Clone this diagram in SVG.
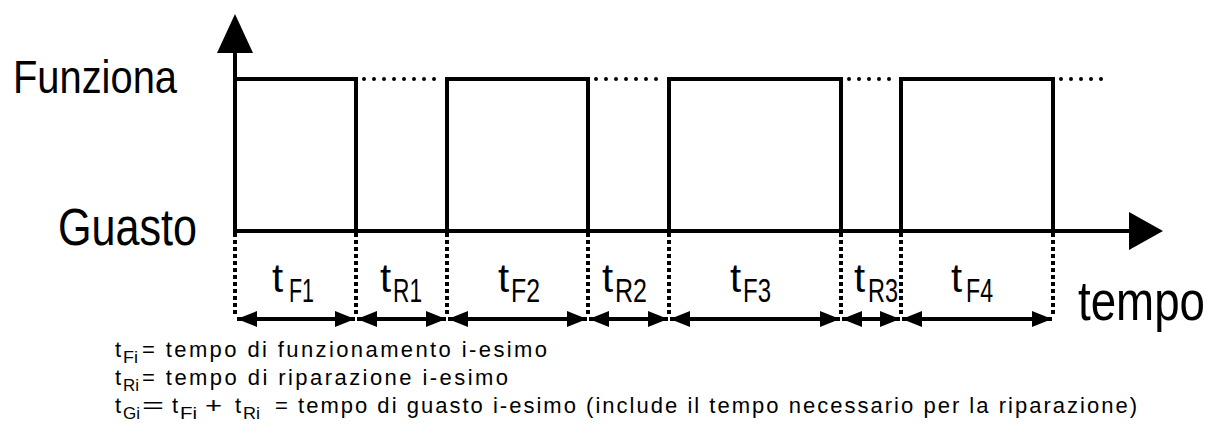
<svg xmlns="http://www.w3.org/2000/svg" width="1224" height="433" viewBox="0 0 1224 433">
  <style>
    text { font-family: "Liberation Sans", Arial, sans-serif; fill: #000; }
    .lvl { font-size: 47px; }
    .big { font-size: 40px; }
    .sub { font-size: 34px; }
    .leg { font-size: 22px; }
    .legsub { font-size: 16px; }
    .wave { fill: none; stroke: #000; stroke-width: 4; stroke-linejoin: miter; }
    .axis { stroke: #000; stroke-width: 4; fill: none; }
    .hold { stroke: #000; stroke-width: 4; stroke-dasharray: 0 10; stroke-linecap: round; fill: none; }
    .tick { stroke: #000; stroke-width: 4; stroke-dasharray: 4 3; fill: none; }
    .span { stroke: #000; stroke-width: 4; fill: none; marker-start: url(#head-l); marker-end: url(#head-r); }
  </style>
  <defs>
    <marker id="head-r" viewBox="0 0 20 16" refX="20" refY="8" markerWidth="20" markerHeight="16" markerUnits="userSpaceOnUse" orient="auto">
      <path d="M0,0 L20,8 L0,16 Z" fill="#000"/>
    </marker>
    <marker id="head-l" viewBox="0 0 20 16" refX="0" refY="8" markerWidth="20" markerHeight="16" markerUnits="userSpaceOnUse" orient="auto">
      <path d="M20,0 L0,8 L20,16 Z" fill="#000"/>
    </marker>
  </defs>

  <!-- axes -->
  <g id="axes">
    <line class="axis" x1="235" y1="233" x2="235" y2="50"/>
    <path d="M217,53 L235,14 L253,53 Z" fill="#000"/>
    <line class="axis" x1="233" y1="231" x2="1132" y2="231"/>
    <path d="M1129,212 L1163,231 L1129,250 Z" fill="#000"/>
  </g>

  <!-- state labels -->
  <g id="label-funziona"><text class="lvl" x="13" y="93" textLength="164" lengthAdjust="spacingAndGlyphs">Funziona</text></g>
  <g id="label-guasto"><text class="lvl" x="58" y="245" style="font-size:51px" textLength="139" lengthAdjust="spacingAndGlyphs">Guasto</text></g>
  <g id="label-tempo" transform="translate(1078,320) scale(1,1.1)"><text class="lvl" x="0" y="0" style="font-size:51px" textLength="127" lengthAdjust="spacingAndGlyphs">tempo</text></g>

  <!-- operating state waveform -->
  <g id="waveform">
    <path class="wave" d="M235,231 V79 H356 V231"/>
    <path class="wave" d="M447,231 V79 H588 V231"/>
    <path class="wave" d="M669,231 V79 H841 V231"/>
    <path class="wave" d="M901,231 V79 H1053 V231"/>
    <line class="hold" x1="364" y1="79" x2="442" y2="79"/>
    <line class="hold" x1="596" y1="79" x2="664" y2="79"/>
    <line class="hold" x1="849" y1="79" x2="896" y2="79"/>
    <line class="hold" x1="1061" y1="79" x2="1103" y2="79"/>
  </g>

  <!-- connectors: interval boundaries and spans -->
  <g id="connectors">
    <line class="tick" x1="235" y1="233" x2="235" y2="316"/>
    <line class="tick" x1="356" y1="233" x2="356" y2="316"/>
    <line class="tick" x1="447" y1="233" x2="447" y2="316"/>
    <line class="tick" x1="588" y1="233" x2="588" y2="316"/>
    <line class="tick" x1="669" y1="233" x2="669" y2="316"/>
    <line class="tick" x1="841" y1="233" x2="841" y2="316"/>
    <line class="tick" x1="901" y1="233" x2="901" y2="316"/>
    <line class="tick" x1="1053" y1="233" x2="1053" y2="316"/>
    <line class="span" x1="237" y1="319" x2="355" y2="319"/>
    <line class="span" x1="357" y1="319" x2="446" y2="319"/>
    <line class="span" x1="448" y1="319" x2="587" y2="319"/>
    <line class="span" x1="589" y1="319" x2="668" y2="319"/>
    <line class="span" x1="670" y1="319" x2="840" y2="319"/>
    <line class="span" x1="842" y1="319" x2="900" y2="319"/>
    <line class="span" x1="902" y1="319" x2="1052" y2="319"/>
  </g>

  <!-- interval labels -->
  <g id="label-tF1"><text class="big" x="272" y="292">t</text><text class="sub" x="289" y="302" textLength="25" lengthAdjust="spacingAndGlyphs">F1</text></g>
  <g id="label-tR1"><text class="big" x="380" y="292">t</text><text class="sub" x="393" y="302" textLength="29" lengthAdjust="spacingAndGlyphs">R1</text></g>
  <g id="label-tF2"><text class="big" x="498" y="292">t</text><text class="sub" x="511" y="302" textLength="29" lengthAdjust="spacingAndGlyphs">F2</text></g>
  <g id="label-tR2"><text class="big" x="602" y="292">t</text><text class="sub" x="615" y="302" textLength="32" lengthAdjust="spacingAndGlyphs">R2</text></g>
  <g id="label-tF3"><text class="big" x="730" y="292">t</text><text class="sub" x="743" y="302" textLength="28" lengthAdjust="spacingAndGlyphs">F3</text></g>
  <g id="label-tR3"><text class="big" x="854" y="292">t</text><text class="sub" x="868" y="302" textLength="30" lengthAdjust="spacingAndGlyphs">R3</text></g>
  <g id="label-tF4"><text class="big" x="951" y="292">t</text><text class="sub" x="966" y="302" textLength="27" lengthAdjust="spacingAndGlyphs">F4</text></g>

  <!-- legend -->
  <g id="legend">
    <text class="leg" x="115" y="357">t</text>
    <text class="legsub" x="123" y="363" textLength="15" lengthAdjust="spacingAndGlyphs">Fi</text>
    <text class="leg" x="142" y="357" textLength="405" lengthAdjust="spacing">= tempo di funzionamento i-esimo</text>

    <text class="leg" x="115" y="385">t</text>
    <text class="legsub" x="123" y="391" textLength="16" lengthAdjust="spacingAndGlyphs">Ri</text>
    <text class="leg" x="142" y="385" textLength="366" lengthAdjust="spacing">= tempo di riparazione i-esimo</text>

    <text class="leg" x="115" y="413">t</text>
    <text class="legsub" x="123" y="419" textLength="17" lengthAdjust="spacingAndGlyphs">Gi</text>
    <text class="leg" x="142" y="413" textLength="22" lengthAdjust="spacingAndGlyphs">=</text>
    <text class="leg" x="172" y="413">t</text>
    <text class="legsub" x="180" y="419" textLength="17" lengthAdjust="spacingAndGlyphs">Fi</text>
    <text class="leg" x="205" y="413" textLength="17" lengthAdjust="spacingAndGlyphs">+</text>
    <text class="leg" x="235" y="413">t</text>
    <text class="legsub" x="243" y="419" textLength="17" lengthAdjust="spacingAndGlyphs">Ri</text>
    <text class="leg" x="275" y="413" textLength="862" lengthAdjust="spacing">= tempo di guasto i-esimo (include il tempo necessario per la riparazione)</text>
  </g>
</svg>
